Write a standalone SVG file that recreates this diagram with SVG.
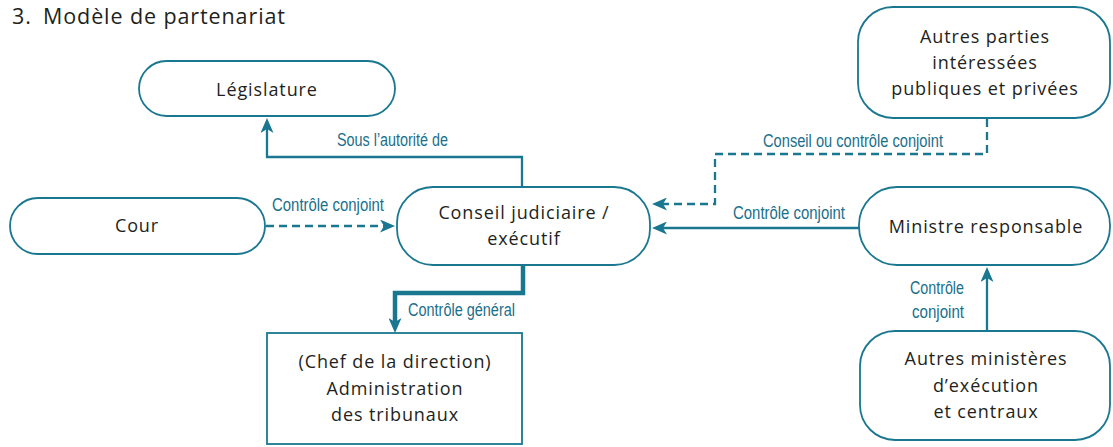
<svg xmlns="http://www.w3.org/2000/svg" width="1113" height="447" viewBox="0 0 1113 447">
<style>
.node{fill:#fff;stroke:#1a7790;stroke-width:1.8}
.nt{font-family:"Open Sans","Liberation Sans",sans-serif;font-size:18px;fill:#231f20;text-anchor:middle;letter-spacing:0.9px}
.lbl{font-family:"Liberation Sans Narrow","Liberation Sans",sans-serif;font-size:17.5px;fill:#1a6f8b}
.c{fill:none;stroke:#1a7790;stroke-width:2.3}
.d{stroke-dasharray:8 5}
.thick{stroke-width:4.5}
.title{font-family:"Open Sans","Liberation Sans",sans-serif;font-size:21.5px;fill:#231f20;letter-spacing:0.9px}
</style>
<defs>
<marker id="ah" markerUnits="userSpaceOnUse" markerWidth="15" markerHeight="13" refX="4" refY="6.5" orient="auto">
<path d="M0,0 L15,6.5 L0,13 L4,6.5 z" fill="#1a7790"/>
</marker>
</defs>
<text class="title" x="12" y="24">3.<tspan x="43">Modèle de partenariat</tspan></text>

<g id="connectors">
<path class="c" d="M522,187 V157 H267 V129" marker-end="url(#ah)"/>
<path class="c d" d="M266,226 H384" marker-end="url(#ah)"/>
<path class="c d" d="M987,119 V154 H715 V204 H663" marker-end="url(#ah)"/>
<path class="c" d="M859,228 H663" marker-end="url(#ah)"/>
<path class="c" d="M987,331 V278" marker-end="url(#ah)"/>
<path class="c thick" d="M523,265 V293 H395 V322" marker-end="url(#ah)"/>
<text class="lbl" x="337" y="146" textLength="111" lengthAdjust="spacingAndGlyphs">Sous l’autorité de</text>
<text class="lbl" x="272" y="211" textLength="112" lengthAdjust="spacingAndGlyphs">Contrôle conjoint</text>
<text class="lbl" x="763" y="147" textLength="180" lengthAdjust="spacingAndGlyphs">Conseil ou contrôle conjoint</text>
<text class="lbl" x="733" y="219" textLength="112" lengthAdjust="spacingAndGlyphs">Contrôle conjoint</text>
<text class="lbl" x="910" y="294" textLength="54" lengthAdjust="spacingAndGlyphs">Contrôle</text>
<text class="lbl" x="912" y="318" textLength="52" lengthAdjust="spacingAndGlyphs">conjoint</text>
<text class="lbl" x="408" y="316" textLength="107" lengthAdjust="spacingAndGlyphs">Contrôle général</text>
</g>

<g id="legislature">
<rect class="node" x="139" y="61" width="256" height="55" rx="27.5"/>
<text class="nt" x="267" y="96">Législature</text>
</g>
<g id="cour">
<rect class="node" x="10" y="198" width="255" height="56" rx="28"/>
<text class="nt" x="137" y="232">Cour</text>
</g>
<g id="conseil">
<rect class="node" x="397" y="187" width="253" height="78" rx="36"/>
<text class="nt" x="524" y="219">Conseil judiciaire /</text>
<text class="nt" x="524" y="245">exécutif</text>
</g>
<g id="administration">
<rect class="node" x="267" y="333" width="255" height="111"/>
<text class="nt" x="395" y="368">(Chef de la direction)</text>
<text class="nt" x="395" y="395">Administration</text>
<text class="nt" x="395" y="421">des tribunaux</text>
</g>
<g id="autres-parties">
<rect class="node" x="858" y="7" width="252" height="111" rx="35"/>
<text class="nt" x="985" y="43">Autres parties</text>
<text class="nt" x="985" y="69">intéressées</text>
<text class="nt" x="985" y="95">publiques et privées</text>
</g>
<g id="ministre">
<rect class="node" x="859" y="187" width="251" height="78" rx="38"/>
<text class="nt" x="986" y="233">Ministre responsable</text>
</g>
<g id="autres-ministeres">
<rect class="node" x="860" y="331" width="250" height="109" rx="35"/>
<text class="nt" x="986" y="365">Autres ministères</text>
<text class="nt" x="986" y="392">d’exécution</text>
<text class="nt" x="986" y="418">et centraux</text>
</g>
</svg>
